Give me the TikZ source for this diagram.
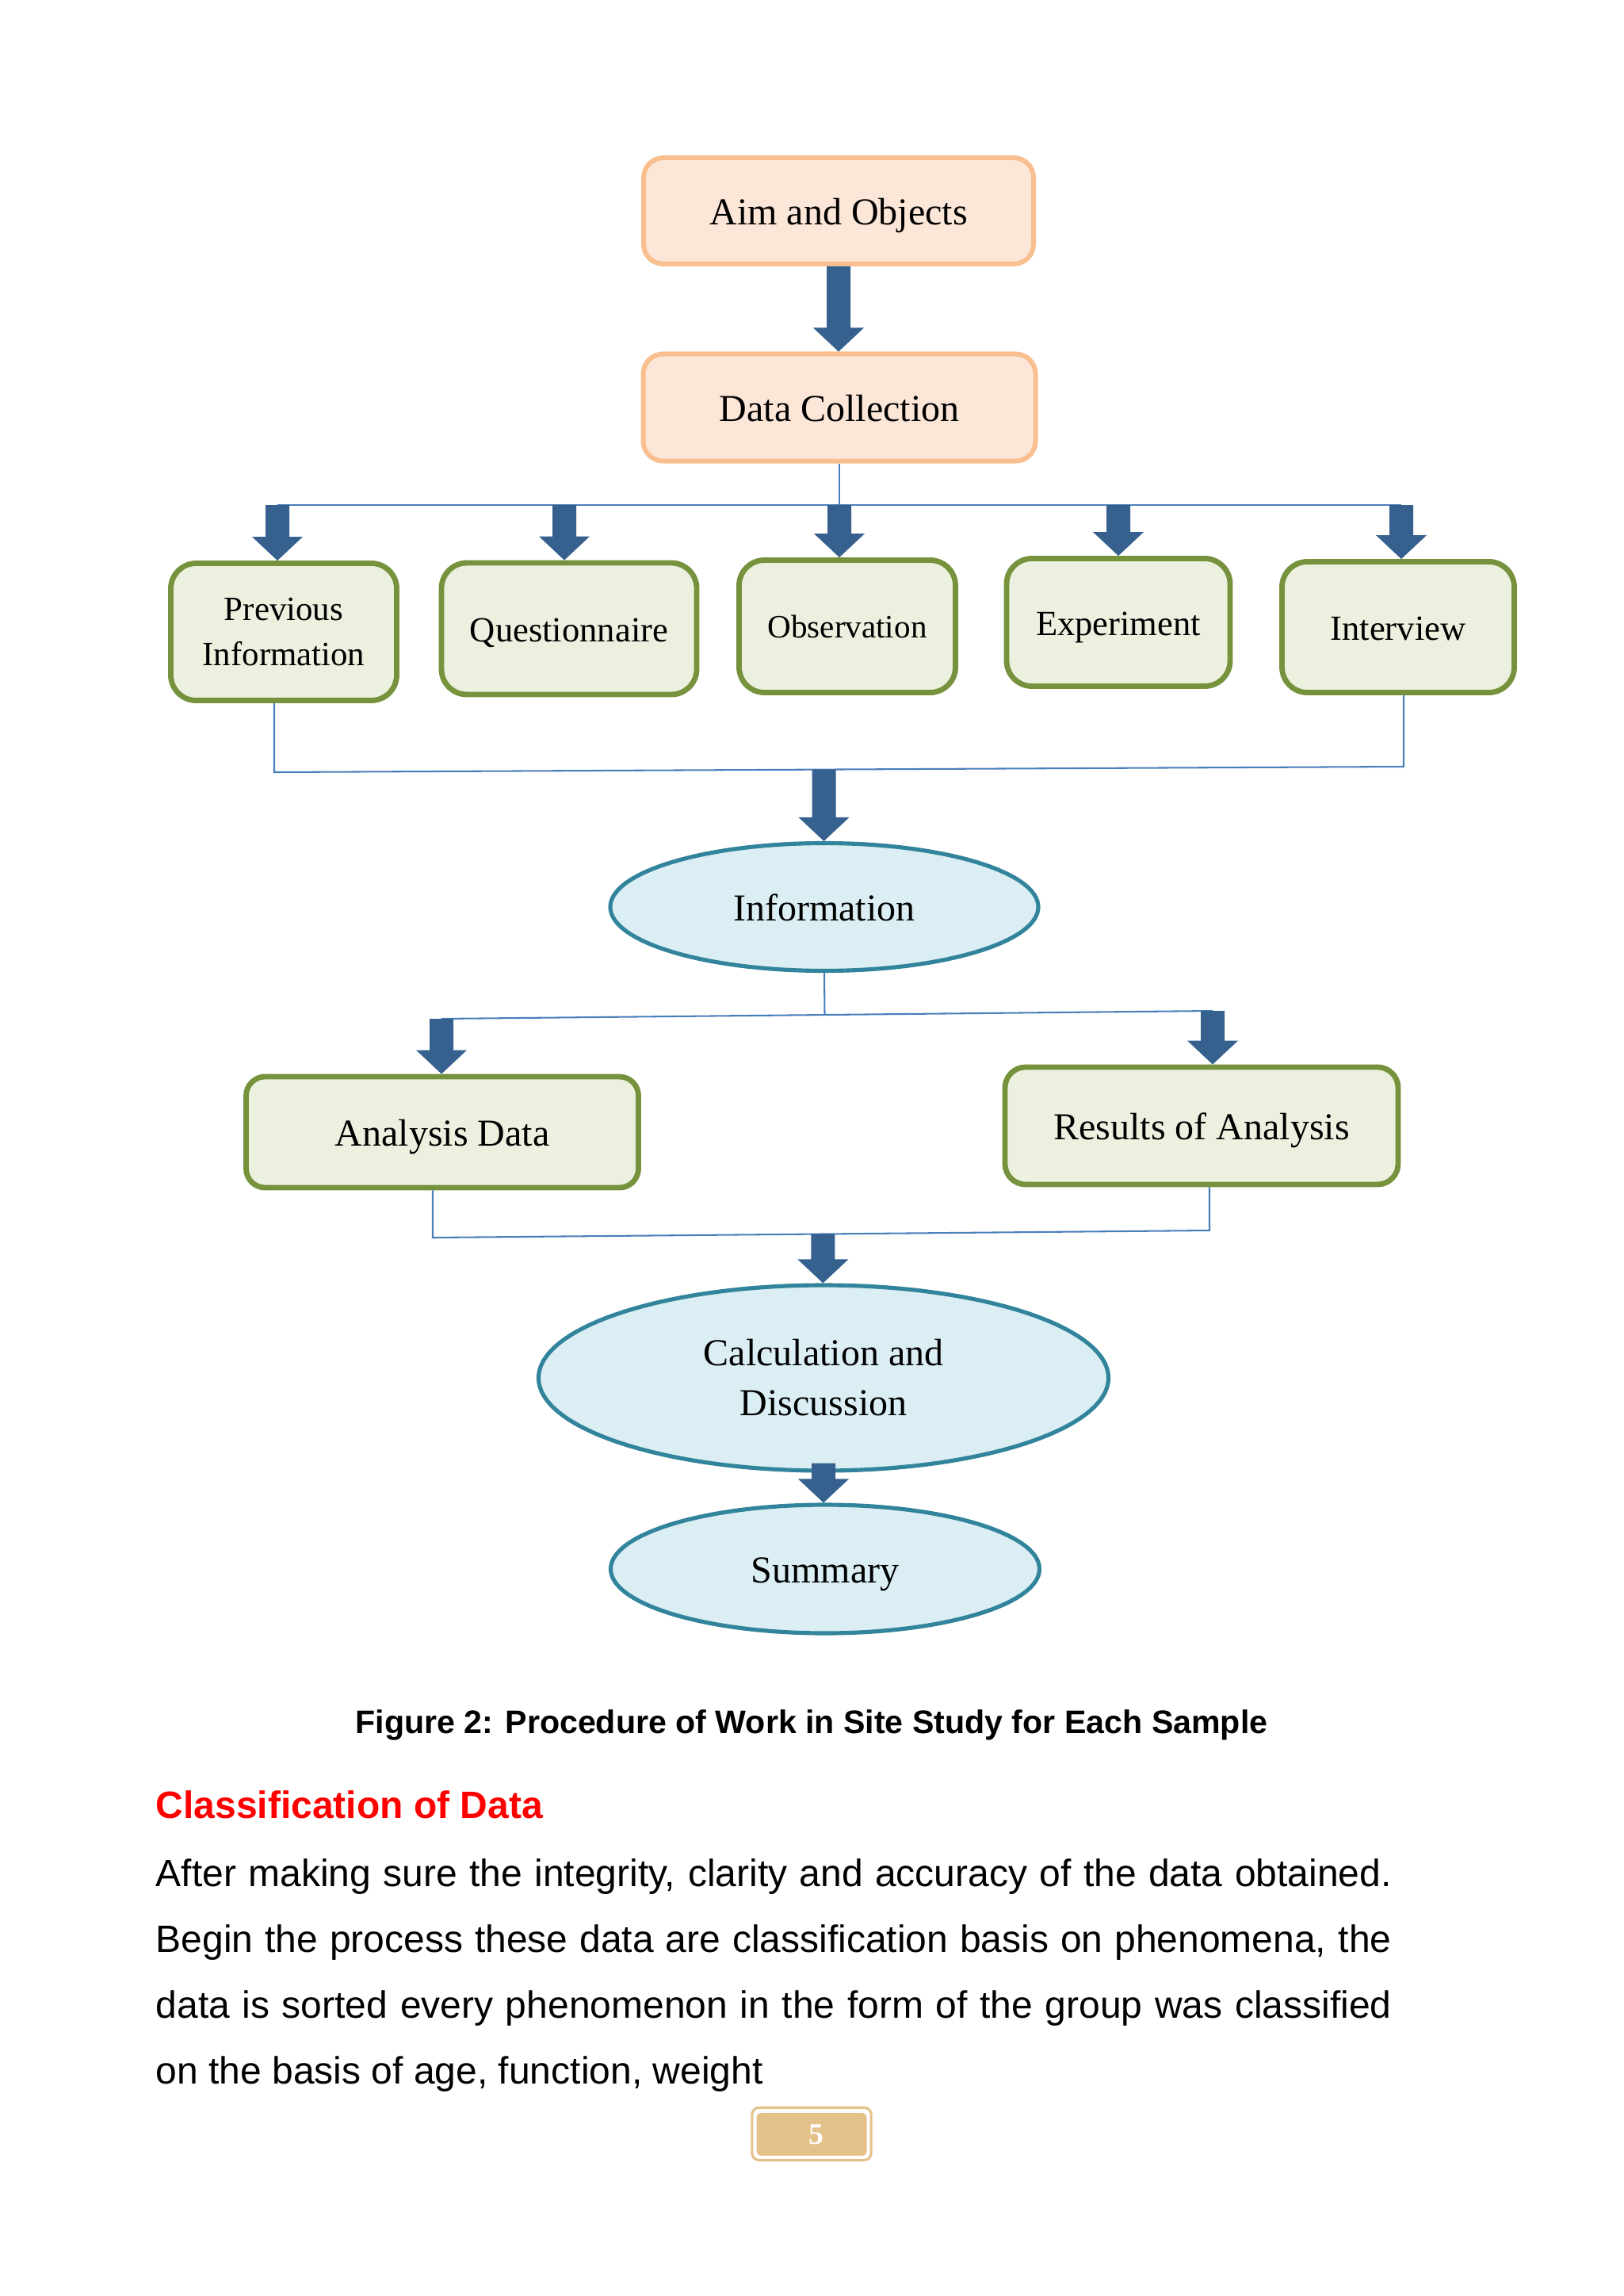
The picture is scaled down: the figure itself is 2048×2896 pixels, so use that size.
\documentclass[tikz,border=0pt]{standalone}
\usepackage{fontspec}
\setmainfont{Liberation Serif}
\setsansfont{Liberation Sans}
\usetikzlibrary{calc,shapes.geometric}
\definecolor{orDraw}{HTML}{F9BF8F}
\definecolor{orFill}{HTML}{FCE6D8}
\definecolor{grDraw}{HTML}{76923C}
\definecolor{grFill}{HTML}{EBF1DE}
\definecolor{tlDraw}{HTML}{31849B}
\definecolor{tlFill}{HTML}{DAEEF3}
\definecolor{arFill}{HTML}{36618F}
\definecolor{cnLine}{HTML}{4A7EBB}
\definecolor{pgCol}{HTML}{E5C18A}
\definecolor{hdRed}{HTML}{FF0000}
\newcommand\pxu{0.29165pt}
\newcommand\barrow[2]{\fill[arFill] ($(#1)+(-15,0)$) -- ($(#2)+(-15,-30)$) -- ($(#2)+(-32,-30)$) -- (#2) -- ($(#2)+(32,-30)$) -- ($(#2)+(15,-30)$) -- ($(#1)+(15,0)$) -- cycle;}
\begin{document}
\begin{tikzpicture}[x=0.29165pt,y=-0.29165pt,
  orbox/.style={rectangle,draw=orDraw,fill=orFill,line width=1.75pt,rounded corners=25*\pxu,inner sep=0pt,align=center,font=\fontsize{14}{18}\selectfont},
  grbox/.style={rectangle,draw=grDraw,fill=grFill,line width=2pt,rounded corners=32*\pxu,inner sep=0pt,align=center,font=\fontsize{13}{16.6}\selectfont},
  tlell/.style={ellipse,draw=tlDraw,fill=tlFill,line width=1.5pt,inner sep=0pt,align=center,font=\fontsize{14}{18.4}\selectfont},
  one14/.style={text height=10.3pt,text depth=0pt},
  one13/.style={text height=9.6pt,text depth=0pt},
  one12/.style={text height=8.5pt,text depth=0pt},
  conn/.style={draw=cnLine,line width=0.6pt},
  capt/.style={font=\sffamily\bfseries\fontsize{12}{14}\selectfont,inner sep=0pt},
  head/.style={font=\sffamily\bfseries\fontsize{14}{16}\selectfont,text=hdRed,inner sep=0pt},
  body/.style={font=\sffamily\fontsize{14}{24.2}\selectfont,inner sep=0pt,text width=1559*\pxu,align=justify}
]
\useasboundingbox[fill=white] (0,0) rectangle (2048,2896);

% boxes
\node[orbox,one14,minimum width=492*\pxu,minimum height=134*\pxu] (aim) at (1058,266) {Aim and Objects};
\node[orbox,one14,minimum width=495*\pxu,minimum height=135*\pxu] (dc) at (1059,514) {Data Collection};

\node[grbox,minimum width=285*\pxu,minimum height=173*\pxu,font=\fontsize{12.5}{16.6}\selectfont] (pi) at (358,797) {Previous\\Information};
\node[grbox,one13,minimum width=322*\pxu,minimum height=166*\pxu] (qu) at (718,793) {Questionnaire};
\node[grbox,one12,minimum width=273*\pxu,minimum height=167*\pxu,font=\fontsize{12}{14}\selectfont] (ob) at (1069,790) {Observation};
\node[grbox,one13,minimum width=282*\pxu,minimum height=161*\pxu] (ex) at (1411,785) {Experiment};
\node[grbox,one13,minimum width=293*\pxu,minimum height=165*\pxu] (iv) at (1764,791) {Interview};

\node[tlell,one14,minimum width=540*\pxu,minimum height=161*\pxu] (info) at (1040,1144) {Information};

\node[grbox,one14,minimum width=495*\pxu,minimum height=140*\pxu,rounded corners=24*\pxu,font=\fontsize{14}{18}\selectfont] (ad) at (558,1428) {Analysis Data};
\node[grbox,one14,minimum width=496*\pxu,minimum height=148*\pxu,rounded corners=26*\pxu,font=\fontsize{14}{18}\selectfont] (res) at (1516,1420) {Results of Analysis};

\node[tlell,minimum width=719*\pxu,minimum height=234*\pxu] (calc) at (1039,1738) {Calculation and\\Discussion};
\node[tlell,one14,minimum width=541*\pxu,minimum height=162*\pxu] (sum) at (1041,1979) {Summary};

% connector coordinates
\coordinate (busL) at (350,637);
\coordinate (busR) at (1768,637);
\coordinate (a2) at (712,637);
\coordinate (a3) at (1059,637);
\coordinate (a4) at (1411,637);
\coordinate (j1) at (346,974);
\coordinate (j2) at (1771,967);
\coordinate (k1) at (557,1285);
\coordinate (k2) at (1530,1275);
\coordinate (m1) at (546,1561);
\coordinate (m2) at (1526,1552);
\coordinate (p1) at ($(j1)!(info.north)!(j2)$);
\coordinate (p2) at ($(m1)!(calc.north)!(m2)$);
\coordinate (c1) at ($(calc.south)+(0,-12)$);

% thin connectors
\draw[conn] (dc.south) -- (dc.south |- busL);
\draw[conn] (busL) -- (busR);
\draw[conn] (pi.south -| j1) -- (j1) -- (j2) -- (j2 |- iv.south);
\draw[conn] (info.south) -- ($(k1)!(info.south)!(k2)$);
\draw[conn] (k1) -- (k2);
\draw[conn] (ad.south -| m1) -- (m1) -- (m2) -- (m2 |- res.south);

% block arrows
\barrow{aim.south}{aim.south |- dc.north}
\barrow{busL}{busL |- pi.north}
\barrow{a2}{a2 |- qu.north}
\barrow{a3}{a3 |- ob.north}
\barrow{a4}{a4 |- ex.north}
\barrow{busR}{busR |- iv.north}
\barrow{p1}{p1 |- info.north}
\barrow{k1}{k1 |- ad.north}
\barrow{k2}{k2 |- res.north}
\barrow{p2}{p2 |- calc.north}
\barrow{c1}{c1 |- sum.north}

% texts
\node[capt,anchor=base] (cap) at (1024,2186) {Figure 2: Procedure of Work in Site Study for Each Sample};
\node[head,anchor=base west] (hd) at (196,2293) {Classification of Data};
\node[body,anchor=north west] (txt) at (196,2344) {\noindent After making sure the integrity, clarity and accuracy of the data obtained.\linebreak
Begin the process these data are classification basis on phenomena, the\linebreak
data is sorted every phenomenon in the form of the group was classified\linebreak
on the basis of age, function, weight};

% page number
\node[rectangle,fill=pgCol,rounded corners=6*\pxu,minimum width=139*\pxu,minimum height=54*\pxu,inner sep=0pt,text=white,font=\bfseries\fontsize{11}{12}\selectfont] (pg) at (1024,2692) {\hspace*{3.2pt}5};
\draw[draw=pgCol,line width=0.9pt,rounded corners=9*\pxu] ($(pg.north west)+(-5,-6)$) rectangle ($(pg.south east)+(5,5)$);
\end{tikzpicture}
\end{document}
